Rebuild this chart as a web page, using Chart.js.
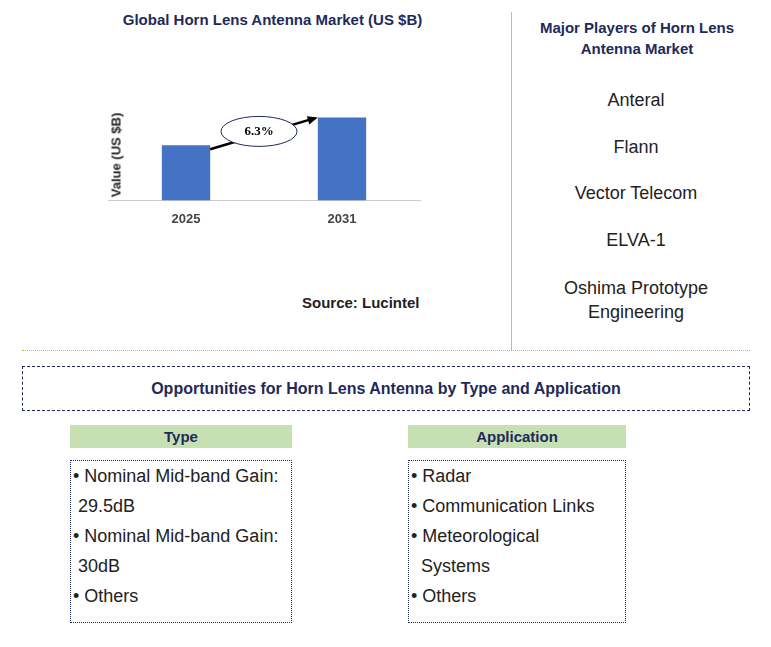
<!DOCTYPE html><html><head><meta charset="utf-8">
<script src="https://cdn.jsdelivr.net/npm/chart.js@4"></script>
<style>
body{margin:0;width:771px;height:647px;position:relative;font-family:Arial,"Liberation Sans",sans-serif;background:#fff;overflow:hidden}
.a{position:absolute}
.t{color:#1f2a5a;font-weight:bold;font-size:15px;text-align:center}
.p{color:#222;font-size:18px;text-align:center;width:200px;left:536px}
.h{background:#c6e0b4;font-weight:bold;font-size:15px;text-align:center;color:#1f2a5a;line-height:23px}
.b{border:1px dotted #1f2a5a;font-size:18px;color:#222;line-height:30px;padding:0 0 0 2px;box-sizing:border-box}
</style></head><body>
<div class="a t" style="left:80px;top:11px;width:385px">Global Horn Lens Antenna Market (US $B)</div>
<div class="a" style="left:100px;top:90px;width:330px;height:140px"><canvas id="c"></canvas></div>
<div class="a" style="left:80px;top:155px;transform:translate(-50%,-50%) rotate(-90deg);left:116px;font-weight:bold;font-size:13px;color:#222;white-space:nowrap">Value (US $B)</div>
<div class="a" style="left:302px;top:294px;font-weight:bold;font-size:15px;color:#222">Source: Lucintel</div>
<div class="a" style="left:511px;top:12px;width:1px;height:338px;background:#bbb"></div>
<div class="a t" style="left:522px;top:17px;width:230px;line-height:21px">Major Players of Horn Lens Antenna Market</div>
<div class="a p" style="top:90px">Anteral</div>
<div class="a p" style="top:137px">Flann</div>
<div class="a p" style="top:183px">Vector Telecom</div>
<div class="a p" style="top:230px">ELVA-1</div>
<div class="a p" style="top:276px;line-height:24px">Oshima Prototype Engineering</div>
<div class="a" style="left:22px;top:350px;width:728px;border-top:1px dotted #e0b400"></div>
<div class="a t" style="left:22px;top:366px;width:728px;height:45px;border:1px dashed #1f2a5a;box-sizing:border-box;line-height:43px;font-size:16px">Opportunities for Horn Lens Antenna by Type and Application</div>
<div class="a h" style="left:70px;top:425px;width:222px">Type</div>
<div class="a b" style="left:70px;top:460px;width:222px;height:163px;padding-top:0">• Nominal Mid-band Gain:<br>&nbsp;29.5dB<br>• Nominal Mid-band Gain:<br>&nbsp;30dB<br>• Others</div>
<div class="a h" style="left:408px;top:425px;width:218px">Application</div>
<div class="a b" style="left:408px;top:460px;width:218px;height:163px">• Radar<br>• Communication Links<br>• Meteorological<br>&nbsp;&nbsp;Systems<br>• Others</div>
<script>
const categories=["2025","2031"];
const values=[1.0,1.5];
const cagr="6.3%";
const arrow={id:"arr",afterDatasetsDraw(ch){
 const m=ch.getDatasetMeta(0).data,c=ch.ctx;
 const x1=m[0].x+m[0].width/2,y1=m[0].y+4,x2=m[1].x-m[1].width/2,y2=m[1].y;
 c.save();c.strokeStyle="#000";c.lineWidth=2.5;c.beginPath();c.moveTo(x1,y1);c.lineTo(x2-8,y2+2);c.stroke();
 const ang=Math.atan2(y2-y1,x2-x1);c.fillStyle="#000";c.beginPath();c.moveTo(x2,y2);
 c.lineTo(x2-11*Math.cos(ang-0.4),y2-11*Math.sin(ang-0.4));c.lineTo(x2-11*Math.cos(ang+0.4),y2-11*Math.sin(ang+0.4));c.fill();
 const cx=(x1+x2)/2-5,cy=(y1+y2)/2-2;c.beginPath();c.ellipse(cx,cy,38,15,0,0,Math.PI*2);c.fillStyle="#fff";c.fill();c.lineWidth=1;c.strokeStyle="#1f2a5a";c.stroke();
 c.fillStyle="#000";c.font="bold 13px 'Liberation Serif',serif";c.textAlign="center";c.textBaseline="middle";c.fillText(cagr,cx,cy);c.restore();}};
new Chart(document.getElementById("c"),{type:"bar",data:{labels:categories,datasets:[{data:values,backgroundColor:"#4472c4",barPercentage:0.31,categoryPercentage:1}]},
options:{responsive:true,maintainAspectRatio:false,animation:false,layout:{padding:{left:8,right:10,top:0,bottom:0}},
plugins:{legend:{display:false},tooltip:{enabled:false}},
scales:{y:{display:false,min:0,max:2},x:{grid:{display:false},border:{color:"#ccc"},ticks:{color:"#444",font:{weight:"bold",size:13}}}}},plugins:[arrow]});
</script></body></html>
